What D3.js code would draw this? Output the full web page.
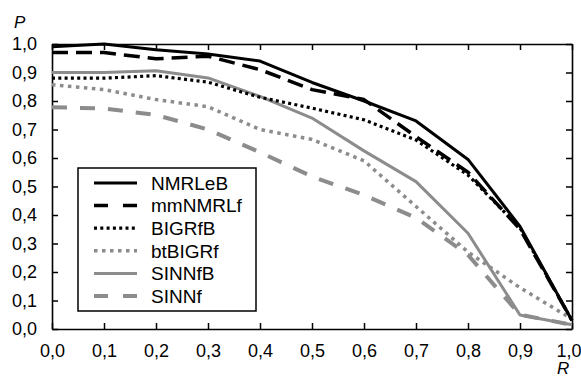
<!DOCTYPE html>
<html>
<head>
<meta charset="utf-8">
<script src="https://cdn.jsdelivr.net/npm/d3@7"></script>
<style>
  body { margin: 0; background: #fff; }
  svg { font-family: "Liberation Sans", Arial, sans-serif; }
</style>
</head>
<body>
<div id="chart"></div>
<script>
// recall levels
const recall = [0, 0.1, 0.2, 0.3, 0.4, 0.5, 0.6, 0.7, 0.8, 0.9, 1.0];

// precision per method
const nmrleb  = [0.99, 1.00, 0.98, 0.965, 0.94, 0.865, 0.80, 0.73, 0.595, 0.36, 0.03];
const mmnmrlf = [0.97, 0.97, 0.948, 0.957, 0.91, 0.84, 0.805, 0.675, 0.55, 0.35, 0.03];
const bigrfb  = [0.88, 0.88, 0.889, 0.866, 0.813, 0.775, 0.734, 0.663, 0.54, 0.355, 0.03];
const btbigrf = [0.857, 0.84, 0.805, 0.78, 0.70, 0.665, 0.59, 0.43, 0.27, 0.145, 0.035];
const sinnfb  = [0.90, 0.90, 0.906, 0.881, 0.816, 0.74, 0.625, 0.517, 0.336, 0.049, 0.015];
const sinnf   = [0.778, 0.774, 0.751, 0.70, 0.62, 0.535, 0.47, 0.39, 0.26, 0.05, 0.015];

const seriesNames = ['NMRLeB', 'mmNMRLf', 'BIGRfB', 'btBIGRf', 'SINNfB', 'SINNf'];
const seriesValues = [nmrleb, mmnmrlf, bigrfb, btbigrf, sinnfb, sinnf];

const xTicks = d3.range(0, 11).map(i => i / 10);
const yTicks = d3.range(0, 11).map(i => i / 10);

const W = 581, H = 377;
const gray = '#8c8c8c';
const styles = [
  { color: '#000', width: 3,   dash: null },
  { color: '#000', width: 3.5, dash: '16,8' },
  { color: '#000', width: 3.2, dash: '3,3.3' },
  { color: gray,  width: 3.5, dash: '3.5,4.5' },
  { color: gray,  width: 3,   dash: null },
  { color: gray,  width: 4,   dash: '15,13' }
];

const svg = d3.select('#chart').append('svg')
  .attr('width', W).attr('height', H);

const x = d3.scaleLinear([0, 1], [52, 572]);
const y = d3.scaleLinear([0, 1], [329, 44]);
const fmt = d => d3.format('.1f')(d).replace('.', ',');

// axes: ticks pointing inward on all four sides
const axB = svg.append('g').attr('transform', `translate(0,${y(0)})`)
  .call(d3.axisBottom(x).tickValues(xTicks).tickSizeInner(-6).tickSizeOuter(0).tickPadding(15).tickFormat(fmt));
const axL = svg.append('g').attr('transform', `translate(${x(0)},0)`)
  .call(d3.axisLeft(y).tickValues(yTicks).tickSizeInner(-6).tickSizeOuter(0).tickPadding(15).tickFormat(fmt));
const axT = svg.append('g').attr('transform', `translate(0,${y(1)})`)
  .call(d3.axisTop(x).tickValues(xTicks).tickSizeInner(-6).tickSizeOuter(0).tickFormat(''));
const axR = svg.append('g').attr('transform', `translate(${x(1)},0)`)
  .call(d3.axisRight(y).tickValues(yTicks).tickSizeInner(-6).tickSizeOuter(0).tickFormat(''));

[axB, axL, axT, axR].forEach(a => {
  a.selectAll('path.domain').attr('stroke', '#000').attr('stroke-width', 1.6);
  a.selectAll('line').attr('stroke', '#000').attr('stroke-width', 1.5);
  a.selectAll('text').attr('fill', '#000').style('font-size', '18px');
});
// last x label sits against the right edge
axB.selectAll('.tick text').filter(d => d === 1)
  .attr('text-anchor', 'end').attr('dx', 9);

// lines
const line = d3.line().x((d, i) => x(recall[i])).y(d => y(d));
const linesG = svg.append('g');
// draw back to front so black lines sit on top
for (let k = seriesValues.length - 1; k >= 0; k--) {
  const s = styles[k];
  linesG.append('path')
    .attr('d', line(seriesValues[k]))
    .attr('fill', 'none')
    .attr('stroke', s.color)
    .attr('stroke-width', s.width)
    .attr('stroke-dasharray', s.dash)
    .attr('stroke-linejoin', 'round');
}

// legend
const lg = svg.append('g');
lg.append('rect')
  .attr('x', 78).attr('y', 168).attr('width', 178).attr('height', 143)
  .attr('fill', '#fff').attr('stroke', '#000').attr('stroke-width', 1.5);
seriesNames.forEach((name, k) => {
  const s = styles[k];
  const cy = 183 + k * 22.6;
  lg.append('line')
    .attr('x1', 94).attr('x2', 137).attr('y1', cy).attr('y2', cy)
    .attr('stroke', s.color).attr('stroke-width', s.width)
    .attr('stroke-dasharray', k === 1 ? '14,15' : k === 5 ? '14,15' : s.dash);
  lg.append('text')
    .attr('x', 151).attr('y', cy).attr('dy', '0.36em')
    .style('font-size', '19px').text(name);
});

// axis titles
svg.append('text').attr('x', 14).attr('y', 28)
  .style('font-size', '17px').style('font-style', 'italic').text('P');
svg.append('text').attr('x', 557).attr('y', 374)
  .style('font-size', '17px').style('font-style', 'italic').text('R');
</script>
</body>
</html>
